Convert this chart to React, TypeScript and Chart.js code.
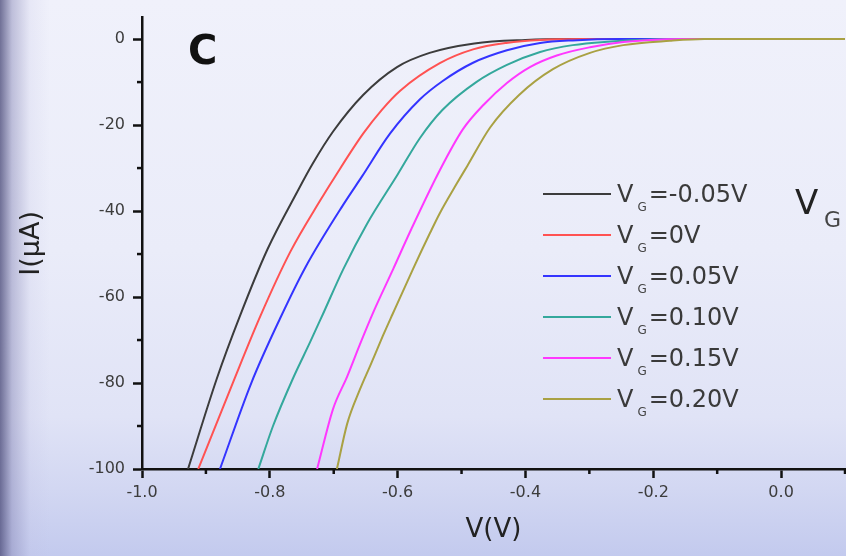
import React, { useEffect, useRef } from "react";
import { Chart, registerables } from "chart.js";

Chart.register(...registerables);

// ---- data ----
const seriesLabels = ["-0.05V", "0V", "0.05V", "0.10V", "0.15V", "0.20V"];
const seriesColors = ["#3c3c3c", "#ff5252", "#3434ff", "#34a89c", "#ff38ff", "#a9a143"];

const vgM005V = [-0.928, -0.883, -0.847, -0.804, -0.757, -0.733, -0.701, -0.654, -0.601, -0.55, -0.48, -0.4, -0.33, 0.1];
const vgM005I = [-100, -79, -64.5, -49, -35.5, -29, -21.5, -13, -6.5, -3.2, -1, -0.2, 0, 0];

const vg000V = [-0.912, -0.858, -0.815, -0.768, -0.721, -0.698, -0.654, -0.625, -0.596, -0.534, -0.482, -0.43, -0.377, -0.3, 0.1];
const vg000I = [-100, -80, -64.5, -49.5, -37.5, -32, -22, -16.5, -12, -5.6, -2.4, -0.9, -0.2, 0, 0];

const vg005V = [-0.878, -0.829, -0.784, -0.744, -0.685, -0.656, -0.612, -0.565, -0.53, -0.482, -0.429, -0.377, -0.326, -0.25, 0.1];
const vg005I = [-100, -80, -65, -53, -38.5, -32, -22, -14, -9.8, -5.5, -2.6, -0.9, -0.3, 0, 0];

const vg010V = [-0.818, -0.795, -0.764, -0.737, -0.717, -0.685, -0.648, -0.6, -0.565, -0.53, -0.477, -0.429, -0.377, -0.326, -0.272, -0.22, -0.15, 0.1];
const vg010I = [-100, -90, -79, -70.5, -64, -53.5, -43, -31.5, -23, -16.5, -10, -6, -3, -1.4, -0.6, -0.2, 0, 0];

const vg015V = [-0.726, -0.701, -0.679, -0.659, -0.638, -0.607, -0.578, -0.534, -0.498, -0.465, -0.429, -0.393, -0.351, -0.299, -0.247, -0.205, -0.15, 0.1];
const vg015I = [-100, -86, -78.5, -71, -63.5, -53.5, -44, -30.5, -21, -15.2, -10.2, -6.5, -3.8, -1.9, -0.7, -0.2, 0, 0];

const vg020V = [-0.695, -0.679, -0.659, -0.643, -0.623, -0.608, -0.576, -0.549, -0.534, -0.507, -0.491, -0.455, -0.41, -0.357, -0.299, -0.247, -0.174, -0.12, 0.1];
const vg020I = [-100, -89.5, -81.5, -76, -69, -64, -53.5, -45, -40.5, -33.5, -29.5, -20.5, -13, -7, -3.2, -1.4, -0.4, 0, 0];

const seriesV = [vgM005V, vg000V, vg005V, vg010V, vg015V, vg020V];
const seriesI = [vgM005I, vg000I, vg005I, vg010I, vg015I, vg020I];

const xMin = -1.0;
const xMax = 0.1;
const yMin = -100;
const yMax = 5;
const xMinorTicks = [-0.9, -0.7, -0.5, -0.3, -0.1, 0.1];
const yMinorTicks = [-90, -70, -50, -30, -10];

const FONT = "'DejaVu Sans', 'Liberation Sans', sans-serif";

const minorTickPlugin = {
  id: "minorTicks",
  afterDraw(chart: any) {
    const { ctx, chartArea, scales } = chart;
    const x = scales.x;
    const y = scales.y;
    ctx.save();
    ctx.strokeStyle = "#111";
    ctx.lineWidth = 2.5;
    xMinorTicks.forEach((v) => {
      const px = x.getPixelForValue(v);
      ctx.beginPath();
      ctx.moveTo(px, chartArea.bottom);
      ctx.lineTo(px, chartArea.bottom + 5);
      ctx.stroke();
    });
    yMinorTicks.forEach((v) => {
      const py = y.getPixelForValue(v);
      ctx.beginPath();
      ctx.moveTo(chartArea.left, py);
      ctx.lineTo(chartArea.left - 5, py);
      ctx.stroke();
    });
    ctx.restore();
  },
};

export default function App() {
  const ref = useRef<HTMLCanvasElement>(null);

  useEffect(() => {
    const datasets = seriesLabels.map((lab, i) => ({
      label: "VG=" + lab,
      data: seriesV[i].map((v, k) => ({ x: v, y: seriesI[i][k] })),
      borderColor: seriesColors[i],
      backgroundColor: seriesColors[i],
      borderWidth: 2,
      pointRadius: 0,
      fill: false,
      cubicInterpolationMode: "monotone" as const,
      order: seriesLabels.length - 1 - i,
    }));

    const chart = new Chart(ref.current as HTMLCanvasElement, {
      type: "line",
      data: { datasets },
      plugins: [minorTickPlugin],
      options: {
        responsive: false,
        animation: false,
        devicePixelRatio: 1,
        layout: { padding: { left: 0, right: 1, top: 17, bottom: 0 } },
        plugins: {
          legend: { display: false },
          tooltip: { enabled: false },
          title: { display: false },
        },
        scales: {
          x: {
            type: "linear",
            min: xMin,
            max: xMax,
            position: "bottom",
            afterFit: (s: any) => {
              s.height = 87;
            },
            grid: {
              drawOnChartArea: false,
              drawTicks: true,
              tickLength: 9,
              tickWidth: 2.5,
              tickColor: "#111",
            },
            border: { display: true, color: "#111", width: 2.5 },
            ticks: {
              stepSize: 0.2,
              includeBounds: false,
              autoSkip: false,
              maxRotation: 0,
              padding: 5,
              color: "#3c3c3c",
              font: { family: FONT, size: 16 },
              callback: (v: any) => (Math.abs(Number(v)) < 1e-9 ? "0.0" : Number(v).toFixed(1)),
            },
            title: {
              display: true,
              text: "V(V)",
              color: "#222",
              font: { family: FONT, size: 26 },
              padding: { top: 4, bottom: 10 },
            },
          },
          y: {
            type: "linear",
            min: yMin,
            max: yMax,
            position: "left",
            afterFit: (s: any) => {
              s.width = 142;
            },
            grid: {
              drawOnChartArea: false,
              drawTicks: true,
              tickLength: 9,
              tickWidth: 2.5,
              tickColor: "#111",
            },
            border: { display: true, color: "#111", width: 2.5 },
            ticks: {
              stepSize: 20,
              includeBounds: false,
              autoSkip: false,
              padding: 8,
              color: "#3c3c3c",
              font: { family: FONT, size: 16 },
            },
            title: {
              display: true,
              text: "I(μA)",
              color: "#222",
              font: { family: FONT, size: 27 },
              padding: { top: 16, bottom: 4 },
            },
          },
        },
      },
    } as any);
    return () => chart.destroy();
  }, []);

  const legendRows = [194, 235, 276, 317, 358, 399];

  return (
    <div
      style={{
        position: "absolute",
        left: 0,
        top: 0,
        width: 846,
        height: 556,
        overflow: "hidden",
        fontFamily: FONT,
        background:
          "linear-gradient(to right, rgba(80,80,125,0.8) 0px, rgba(140,140,185,0.5) 12px, rgba(190,190,225,0.18) 30px, rgba(210,210,240,0) 50px), linear-gradient(to bottom, #f0f1fb 0%, #eaecf9 45%, #e0e3f6 75%, #d2d7f2 88%, #c3caee 100%)",
      }}
    >
      <canvas ref={ref} width={846} height={556} style={{ position: "absolute", left: 0, top: 0 }} />
      <div
        style={{
          position: "absolute",
          left: 188,
          top: 30,
          fontSize: 40,
          lineHeight: "40px",
          fontWeight: "bold",
          color: "#111",
        }}
      >
        C
      </div>
      <div
        style={{
          position: "absolute",
          left: 795,
          top: 185,
          fontSize: 34,
          lineHeight: "34px",
          color: "#222",
          whiteSpace: "nowrap",
        }}
      >
        V
      </div>
      <div
        style={{
          position: "absolute",
          left: 824,
          top: 209,
          fontSize: 22,
          lineHeight: "22px",
          color: "#444",
        }}
      >
        G
      </div>
      {seriesLabels.map((lab, i) => (
        <div
          key={lab}
          style={{
            position: "absolute",
            left: 543,
            top: legendRows[i] - 14,
            height: 28,
            display: "flex",
            alignItems: "center",
            whiteSpace: "nowrap",
          }}
        >
          <div style={{ width: 68, height: 2, background: seriesColors[i] }} />
          <span style={{ marginLeft: 6, fontSize: 24, lineHeight: "28px", color: "#3a3a3a" }}>
            V
            <span
              style={{
                fontSize: 12,
                lineHeight: "12px",
                position: "relative",
                top: 9,
                marginLeft: 4,
                marginRight: 2,
                color: "#444",
              }}
            >
              G
            </span>
            {"=" + lab}
          </span>
        </div>
      ))}
    </div>
  );
}
